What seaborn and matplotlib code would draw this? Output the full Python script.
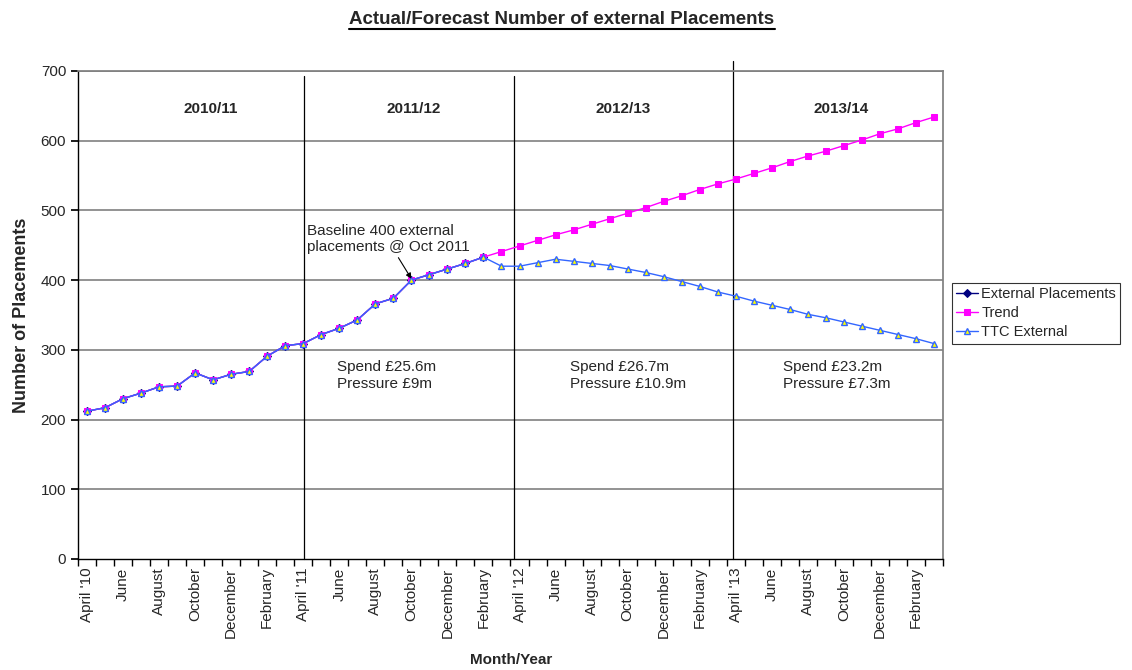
import matplotlib
matplotlib.use("Agg")
import matplotlib.pyplot as plt
import seaborn as sns
import numpy as np
import pandas as pd

sns.set_theme(style="white")
plt.rcParams['font.family'] = ['Liberation Sans', 'DejaVu Sans']

months = ["April '10", "May", "June", "July", "August", "September", "October", "November",
          "December", "January", "February", "March",
          "April '11", "May", "June", "July", "August", "September", "October", "November",
          "December", "January", "February", "March",
          "April '12", "May", "June", "July", "August", "September", "October", "November",
          "December", "January", "February", "March",
          "April '13", "May", "June", "July", "August", "September", "October", "November",
          "December", "January", "February", "March"]

external = [212, 217, 230, 238, 247, 248, 267, 257, 265, 269, 291, 306,
            309, 322, 331, 343, 366, 374, 400, 408, 416, 424, 433]

trend = [212, 217, 230, 238, 247, 248, 267, 257, 265, 269, 291, 306,
         309, 322, 331, 343, 366, 374, 400, 408, 416, 424, 433, 441,
         449, 457, 465, 472, 480, 488, 496, 504, 513, 521, 530, 538,
         545, 553, 561, 570, 578, 585, 593, 601, 610, 617, 626, 634]

ttc = [212, 217, 230, 238, 247, 248, 267, 257, 265, 269, 291, 306,
       309, 322, 331, 343, 366, 374, 400, 408, 416, 424, 433, 420,
       420, 425, 430, 427, 424, 421, 416, 411, 405, 398, 391, 383,
       377, 370, 364, 358, 351, 346, 340, 334, 328, 322, 316, 309]

year_labels = ["2010/11", "2011/12", "2012/13", "2013/14"]
spend_labels = ["Spend £25.6m\nPressure £9m", "Spend £26.7m\nPressure £10.9m",
                "Spend £23.2m\nPressure £7.3m"]

fig = plt.figure(figsize=(11.32, 6.70), dpi=100)
ax = fig.add_axes([78/1132, 1-559/670, (943-78)/1132, (559-71)/670])

x_all = np.arange(1, len(months) + 1)

sns.lineplot(x=x_all[:len(external)], y=external, ax=ax, color="#000080", marker="D",
             markersize=4, markeredgecolor="#000080", linewidth=1, label="External Placements")
sns.lineplot(x=x_all[:len(trend)], y=trend, ax=ax, color="#FF00FF", marker="s",
             markersize=5, markeredgecolor="#FF00FF", linewidth=1, label="Trend")
sns.lineplot(x=x_all[:len(ttc)], y=ttc, ax=ax, color="#3366FF", marker="^",
             markersize=5, markerfacecolor="#FFFF00", markeredgecolor="#3366FF",
             markeredgewidth=1, linewidth=1, label="TTC External")

ax.set_xlim(0.5, len(months) + 0.5)
ax.set_ylim(0, 700)
ax.set_yticks(range(0, 701, 100))
for yv in range(100, 701, 100):
    ax.axhline(yv, color="#808080", linewidth=1.2, zorder=0)

# hand-drawn year divider lines (data x positions, top y)
divider_x = [13.02, 24.71, 36.87]
divider_top = [693, 693, 715]
for xv, yt in zip(divider_x, divider_top):
    ax.plot([xv, xv], [0, yt], color="black", linewidth=0.9, zorder=1, clip_on=False)

ax.set_xticks(x_all[::2])
ax.set_xticklabels(months[::2], rotation=90, fontsize=11)
ax.set_xticks(np.arange(0.5, len(months) + 1, 1), minor=True)
ax.tick_params(axis="x", which="major", length=0, pad=6)
ax.tick_params(axis="x", which="minor", length=5, direction="out", bottom=True, color="black")
ax.tick_params(axis="y", which="major", length=5, direction="out", left=True, labelsize=11, color="black")

for side in ["top", "right"]:
    ax.spines[side].set_color("#808080")
for side in ["left", "bottom"]:
    ax.spines[side].set_color("black")
    ax.spines[side].set_linewidth(1)

ax.set_ylabel("Number of Placements", fontsize=13, fontweight="bold", labelpad=8)
fig.text(511/1132, 1-660/670, "Month/Year", ha="center", va="center", fontsize=11,
         fontweight="bold")

t = fig.text(562/1132, 1-19/670, "Actual/Forecast Number of external Placements", ha="center",
             va="center", fontsize=13.5, fontweight="bold")
fig.canvas.draw()
bb = t.get_window_extent()
fig.add_artist(plt.Line2D([bb.x0/1132, bb.x1/1132], [(bb.y0 - 1)/670, (bb.y0 - 1)/670],
                          color="black", linewidth=1.5, transform=fig.transFigure))

year_x = [7.88, 19.15, 30.74, 42.84]
for xv, lab in zip(year_x, year_labels):
    ax.text(xv, 646, lab, ha="center", va="center", fontsize=11, fontweight="bold")

spend_x = [14.9, 27.8, 39.6]
for xv, lab in zip(spend_x, spend_labels):
    ax.text(xv, 263, lab, ha="left", va="center", fontsize=11, linespacing=1.25)

ax.annotate("Baseline 400 external\nplacements @ Oct 2011", xy=(19, 402), xytext=(13.2, 459),
            ha="left", va="center", fontsize=11, linespacing=1.25,
            arrowprops=dict(arrowstyle="-|>", color="black", lw=0.8, mutation_scale=8,
                            shrinkA=0, shrinkB=0, relpos=(0.55, 0)))

leg = ax.legend(loc="center left", bbox_to_anchor=(1.0104, 0.504), borderaxespad=0,
                fontsize=10.5, frameon=True, fancybox=False, edgecolor="black",
                handlelength=1.5, borderpad=0.3, labelspacing=0.35, handletextpad=0.2)
leg.get_frame().set_linewidth(0.8)

fig.savefig("out.png", dpi=100)
